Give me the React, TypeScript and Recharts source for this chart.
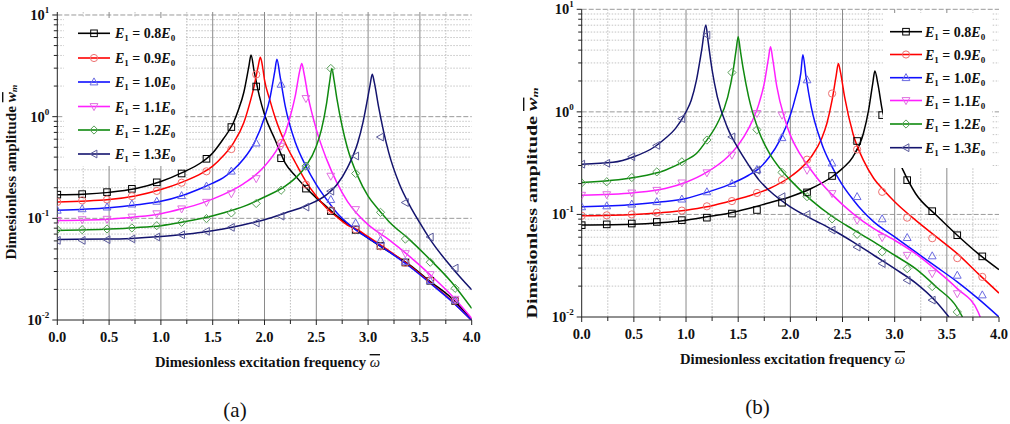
import React from 'react';
import { ComposedChart, Line, Scatter, XAxis, YAxis, CartesianGrid } from 'recharts';

// ---- axis ticks ----
const xTicks = [0, 0.25, 0.5, 0.75, 1, 1.25, 1.5, 1.75, 2, 2.25, 2.5, 2.75, 3, 3.25, 3.5, 3.75, 4];
const xMajor = [0, 0.5, 1, 1.5, 2, 2.5, 3, 3.5, 4];
const xMinor = [0.25, 0.75, 1.25, 1.75, 2.25, 2.75, 3.25, 3.75];
const xGridMajor = [0.5, 1, 1.5, 2, 2.5, 3, 3.5];
const yMajor = [0.01, 0.1, 1, 10];
const yGridMajor = [0.1, 1, 10];
const yMinor = [
  0.02, 0.03, 0.04, 0.05, 0.06, 0.07, 0.08, 0.09,
  0.2, 0.3, 0.4, 0.5, 0.6, 0.7, 0.8, 0.9,
  2, 3, 4, 5, 6, 7, 8, 9,
];
const yTicks = [...yMajor, ...yMinor];

// ---- series ----
const seriesLabels = ['0.8', '0.9', '1.0', '1.1', '1.2', '1.3'];
const lineColors = ['#000000', '#ff0000', '#1010ff', '#ff20ff', '#108a10', '#14146e'];
const markerColors = ['#000000', '#ee7070', '#6a6ae0', '#e070e0', '#5aa05a', '#5a5a9a'];
const markerKinds = ['square', 'circle', 'up', 'down', 'diamond', 'left'];
const markerX = [0, 0.24, 0.48, 0.72, 0.96, 1.2, 1.44, 1.68, 1.92, 2.16, 2.4, 2.64, 2.88, 3.12, 3.36, 3.6, 3.84];

// (a) curves
const lineA08 = [[0, 0.171], [0.25, 0.173], [0.5, 0.18], [0.75, 0.195], [1.0, 0.23], [1.2, 0.28], [1.4, 0.36], [1.5, 0.44], [1.6, 0.6], [1.7, 0.87], [1.75, 1.18], [1.8, 1.73], [1.85, 3.16], [1.87, 4.03], [1.9, 2.8], [1.95, 1.6], [2.0, 1.05], [2.1, 0.6], [2.2, 0.35], [2.3, 0.26], [2.4, 0.2], [2.5, 0.159], [2.6, 0.13], [2.7, 0.105], [2.8, 0.0885], [3.0, 0.064], [3.2, 0.047], [3.4, 0.0349], [3.6, 0.0239], [3.8, 0.0166], [4.0, 0.0101]];
const lineA09 = [[0, 0.145], [0.5, 0.153], [0.75, 0.166], [1.0, 0.192], [1.2, 0.226], [1.4, 0.28], [1.5, 0.326], [1.6, 0.41], [1.7, 0.55], [1.8, 0.87], [1.85, 1.27], [1.9, 2.0], [1.94, 3.16], [1.96, 3.85], [1.98, 3.16], [2.0, 2.3], [2.05, 1.48], [2.1, 1.0], [2.2, 0.55], [2.3, 0.35], [2.4, 0.23], [2.5, 0.165], [2.6, 0.126], [2.7, 0.103], [2.8, 0.086], [2.9, 0.077], [3.0, 0.066], [3.2, 0.048], [3.4, 0.0343], [3.6, 0.0233], [3.8, 0.0157], [4.0, 0.0099]];
const lineA10 = [[0, 0.12], [0.5, 0.127], [0.75, 0.135], [1.0, 0.147], [1.2, 0.167], [1.4, 0.2], [1.5, 0.222], [1.6, 0.25], [1.7, 0.3], [1.8, 0.385], [1.9, 0.55], [2.0, 0.98], [2.05, 1.48], [2.1, 2.82], [2.12, 3.68], [2.15, 2.5], [2.2, 1.27], [2.3, 0.55], [2.4, 0.326], [2.5, 0.215], [2.6, 0.153], [2.7, 0.113], [2.8, 0.09], [2.9, 0.0745], [3.0, 0.064], [3.2, 0.047], [3.4, 0.0336], [3.6, 0.023], [3.8, 0.0155], [4.0, 0.0099]];
const lineA11 = [[0, 0.095], [0.5, 0.098], [0.75, 0.103], [1.0, 0.111], [1.2, 0.124], [1.4, 0.142], [1.6, 0.171], [1.8, 0.22], [1.9, 0.26], [2.0, 0.326], [2.1, 0.44], [2.2, 0.695], [2.25, 1.02], [2.3, 1.66], [2.34, 2.82], [2.36, 3.33], [2.38, 2.72], [2.42, 1.6], [2.5, 0.75], [2.6, 0.38], [2.7, 0.223], [2.8, 0.147], [2.9, 0.109], [3.0, 0.0866], [3.2, 0.0617], [3.4, 0.0422], [3.6, 0.0278], [3.8, 0.0177], [4.0, 0.0104]];
const lineA12 = [[0, 0.076], [0.5, 0.0786], [0.75, 0.081], [1.0, 0.0847], [1.2, 0.0913], [1.4, 0.1], [1.6, 0.113], [1.8, 0.131], [2.0, 0.162], [2.2, 0.207], [2.3, 0.25], [2.4, 0.326], [2.5, 0.513], [2.55, 0.75], [2.6, 1.37], [2.63, 2.25], [2.65, 2.98], [2.67, 2.33], [2.7, 1.48], [2.75, 0.8], [2.8, 0.494], [2.9, 0.26], [3.0, 0.165], [3.1, 0.122], [3.2, 0.0933], [3.4, 0.0617], [3.6, 0.0391], [3.8, 0.0239], [4.0, 0.013]];
const lineA13 = [[0, 0.062], [0.5, 0.0625], [1.0, 0.0664], [1.2, 0.069], [1.4, 0.0728], [1.6, 0.0786], [1.8, 0.0866], [2.0, 0.097], [2.2, 0.113], [2.4, 0.133], [2.6, 0.171], [2.7, 0.215], [2.8, 0.314], [2.9, 0.553], [2.95, 0.873], [3.0, 1.6], [3.02, 2.08], [3.04, 2.62], [3.06, 2.17], [3.1, 1.27], [3.2, 0.44], [3.3, 0.22], [3.4, 0.135], [3.5, 0.09], [3.6, 0.0617], [3.8, 0.0336], [4.0, 0.0198]];

// (a) markers at markerX
const dotsA08 = [0.171, 0.173, 0.181, 0.195, 0.226, 0.276, 0.385, 0.79, 1.98, 0.39, 0.196, 0.118, 0.077, 0.0537, 0.0368, 0.0243, 0.0154];
const dotsA09 = [0.145, 0.15, 0.153, 0.165, 0.186, 0.224, 0.29, 0.48, 2.6, 0.55, 0.215, 0.12, 0.078, 0.053, 0.0365, 0.0245, 0.0155];
const dotsA10 = [0.12, 0.124, 0.129, 0.138, 0.147, 0.167, 0.207, 0.291, 0.55, 2.08, 0.326, 0.153, 0.09, 0.0607, 0.0377, 0.0243, 0.0157];
const dotsA11 = [0.0955, 0.097, 0.098, 0.103, 0.111, 0.124, 0.144, 0.175, 0.246, 0.513, 1.51, 0.26, 0.122, 0.0717, 0.045, 0.028, 0.016];
const dotsA12 = [0.0773, 0.0773, 0.0786, 0.0804, 0.0847, 0.0913, 0.0995, 0.113, 0.14, 0.189, 0.326, 2.98, 0.276, 0.1145, 0.0625, 0.037, 0.0205];
const dotsA13 = [0.0607, 0.0607, 0.0617, 0.0627, 0.0655, 0.069, 0.0745, 0.0815, 0.09, 0.105, 0.129, 0.185, 0.41, 0.63, 0.143, 0.0655, 0.0324];

// (b) curves
const lineB08 = [[0, 0.079], [0.5, 0.0803], [0.75, 0.083], [1.0, 0.0879], [1.2, 0.0947], [1.4, 0.102], [1.6, 0.114], [1.8, 0.13], [2.0, 0.149], [2.2, 0.179], [2.4, 0.233], [2.5, 0.281], [2.6, 0.365], [2.7, 0.616], [2.75, 1.04], [2.79, 1.9], [2.81, 2.5], [2.84, 1.85], [2.88, 1.05], [2.95, 0.6], [3.0, 0.42], [3.08, 0.27], [3.2, 0.16], [3.4, 0.098], [3.6, 0.0627], [3.8, 0.0415], [4.0, 0.029]];
const lineB09 = [[0, 0.097], [0.5, 0.1], [0.75, 0.104], [1.0, 0.11], [1.2, 0.1186], [1.4, 0.133], [1.6, 0.151], [1.8, 0.179], [2.0, 0.233], [2.1, 0.281], [2.2, 0.365], [2.3, 0.55], [2.35, 0.77], [2.4, 1.3], [2.44, 2.28], [2.46, 2.97], [2.48, 2.45], [2.52, 1.4], [2.6, 0.616], [2.7, 0.338], [2.8, 0.224], [2.9, 0.17], [3.0, 0.133], [3.2, 0.0879], [3.4, 0.0604], [3.6, 0.0415], [3.8, 0.0265], [4.0, 0.0171]];
const lineB10 = [[0, 0.119], [0.5, 0.125], [0.75, 0.132], [1.0, 0.143], [1.2, 0.164], [1.4, 0.193], [1.6, 0.241], [1.7, 0.281], [1.8, 0.365], [1.9, 0.531], [2.0, 0.93], [2.05, 1.4], [2.1, 2.37], [2.12, 3.6], [2.15, 2.2], [2.2, 1.12], [2.3, 0.492], [2.4, 0.291], [2.5, 0.193], [2.6, 0.14], [2.7, 0.106], [2.8, 0.0845], [3.0, 0.0604], [3.2, 0.0431], [3.4, 0.0308], [3.6, 0.022], [3.8, 0.0151], [4.0, 0.01]];
const lineB11 = [[0, 0.154], [0.5, 0.163], [0.8, 0.179], [1.0, 0.206], [1.2, 0.258], [1.4, 0.365], [1.5, 0.474], [1.6, 0.69], [1.7, 1.21], [1.75, 1.9], [1.79, 3.33], [1.81, 4.32], [1.83, 3.33], [1.87, 1.77], [1.95, 0.83], [2.0, 0.593], [2.1, 0.378], [2.2, 0.27], [2.3, 0.2], [2.4, 0.156], [2.6, 0.102], [2.8, 0.0728], [3.0, 0.056], [3.2, 0.0415], [3.4, 0.0286], [3.6, 0.0189], [3.8, 0.0112], [3.82, 0.01]];
const lineB12 = [[0, 0.205], [0.5, 0.229], [0.8, 0.27], [1.0, 0.338], [1.1, 0.393], [1.2, 0.531], [1.3, 0.77], [1.4, 1.4], [1.45, 2.47], [1.48, 4.0], [1.5, 5.41], [1.52, 4.0], [1.55, 2.56], [1.6, 1.4], [1.7, 0.64], [1.8, 0.393], [1.9, 0.281], [2.0, 0.216], [2.2, 0.138], [2.4, 0.096], [2.6, 0.0715], [2.8, 0.054], [3.0, 0.04], [3.2, 0.0296], [3.4, 0.0196], [3.6, 0.0123], [3.65, 0.01]];
const lineB13 = [[0, 0.309], [0.3, 0.322], [0.5, 0.365], [0.7, 0.457], [0.8, 0.55], [0.9, 0.69], [1.0, 1.0], [1.05, 1.3], [1.1, 2.04], [1.15, 4.0], [1.19, 7.03], [1.21, 5.0], [1.25, 2.56], [1.3, 1.4], [1.4, 0.69], [1.5, 0.44], [1.6, 0.303], [1.7, 0.216], [1.8, 0.17], [2.0, 0.1186], [2.2, 0.0912], [2.4, 0.0713], [2.6, 0.054], [2.8, 0.04], [3.0, 0.0296], [3.2, 0.0215], [3.4, 0.014], [3.52, 0.01]];

// (b) markers at markerX (null = below axis)
const dotsB08 = [0.0786, 0.08, 0.0815, 0.0845, 0.088, 0.093, 0.102, 0.1105, 0.13, 0.164, 0.237, 0.52, 0.93, 0.216, 0.1076, 0.0627, 0.039];
const dotsB09 = [0.097, 0.098, 0.1, 0.104, 0.109, 0.12, 0.135, 0.162, 0.216, 0.342, 1.51, 0.43, 0.166, 0.093, 0.0586, 0.0375, 0.0246];
const dotsB10 = [0.1186, 0.121, 0.126, 0.133, 0.141, 0.166, 0.2, 0.274, 0.56, 2.05, 0.317, 0.149, 0.0905, 0.0594, 0.0394, 0.0255, 0.0164];
const dotsB11 = [0.154, 0.156, 0.162, 0.172, 0.203, 0.255, 0.379, 0.966, 0.93, 0.27, 0.16, 0.0879, 0.0595, 0.04, 0.0265, 0.0169, null];
const dotsB12 = [0.203, 0.208, 0.229, 0.26, 0.326, 0.531, 2.42, 0.67, 0.257, 0.149, 0.0905, 0.064, 0.0431, 0.0296, 0.0198, 0.0112, null];
const dotsB13 = [0.309, 0.315, 0.365, 0.47, 0.86, 5.6, 0.57, 0.27, 0.149, 0.1, 0.0703, 0.048, 0.0332, 0.0228, 0.0146, null, null];

const linesA = [lineA08, lineA09, lineA10, lineA11, lineA12, lineA13];
const dotsA = [dotsA08, dotsA09, dotsA10, dotsA11, dotsA12, dotsA13];
const linesB = [lineB08, lineB09, lineB10, lineB11, lineB12, lineB13];
const dotsB = [dotsB08, dotsB09, dotsB10, dotsB11, dotsB12, dotsB13];

const FONT = '"Liberation Serif", "Times New Roman", serif';
const AXIS = '#222';

function Marker({ kind, cx, cy, color }: { kind: string; cx: number; cy: number; color: string }) {
  const r = 3.3;
  const common = { fill: 'none', stroke: color, strokeWidth: 1 };
  if (kind === 'square') return <rect x={cx - r} y={cy - r} width={2 * r} height={2 * r} {...common} />;
  if (kind === 'circle') return <circle cx={cx} cy={cy} r={r + 0.3} {...common} />;
  if (kind === 'up') return <polygon points={`${cx},${cy - r - 0.8} ${cx + r + 0.6},${cy + r - 0.4} ${cx - r - 0.6},${cy + r - 0.4}`} {...common} />;
  if (kind === 'down') return <polygon points={`${cx},${cy + r + 0.8} ${cx + r + 0.6},${cy - r + 0.4} ${cx - r - 0.6},${cy - r + 0.4}`} {...common} />;
  if (kind === 'diamond') return <polygon points={`${cx},${cy - r - 0.8} ${cx + r + 0.8},${cy} ${cx},${cy + r + 0.8} ${cx - r - 0.8},${cy}`} {...common} />;
  return <polygon points={`${cx - r - 0.8},${cy} ${cx + r - 0.4},${cy - r - 0.6} ${cx + r - 0.4},${cy + r + 0.6}`} {...common} />;
}

// bottom and left ticks point outwards, top and right ticks point inwards
const BottomTick = ({ x, y, payload }: any) => {
  const v = payload.value;
  const major = xMajor.includes(v);
  return (
    <g>
      <line x1={x} x2={x} y1={y} y2={y + (major ? 5 : 4)} stroke={AXIS} />
      {major && (
        <text x={x} y={y + 22} textAnchor="middle" fontFamily={FONT} fontWeight="bold" fontSize={14.5} fill="#111">
          {v.toFixed(1)}
        </text>
      )}
    </g>
  );
};

const TopTick = ({ x, y, payload }: any) => {
  const major = xMajor.includes(payload.value);
  return <line x1={x} x2={x} y1={y} y2={y + (major ? 4 : 3.5)} stroke={AXIS} />;
};

const LeftTick = ({ x, y, payload }: any) => {
  const v = payload.value;
  const major = yMajor.includes(v);
  const exp = Math.round(Math.log10(v));
  return (
    <g>
      <line x1={x} x2={x - (major ? 5 : 3.5)} y1={y} y2={y} stroke={AXIS} />
      {major && (
        <text x={x - 8} y={y + 5} textAnchor="end" fontFamily={FONT} fontWeight="bold" fontSize={14.5} fill="#111">
          10<tspan dy={-7} fontSize={9}>{exp}</tspan>
        </text>
      )}
    </g>
  );
};

const RightTick = ({ x, y, payload }: any) => {
  const major = yMajor.includes(payload.value);
  return <line x1={x} x2={x - (major ? 4 : 3.5)} y1={y} y2={y} stroke={AXIS} />;
};

// the axis scale may be a plain d3 function or a wrapper with .map
const scaleOf = (s: any, v: number): number => {
  if (!s) return NaN;
  if (typeof s === 'function') return s(v);
  if (typeof s.map === 'function') return s.map(v);
  if (typeof s.scale === 'function') return s.scale(v);
  return NaN;
};
const mapY = (vals: number[]) => ({ yAxis }: any) =>
  vals.map((v) => scaleOf(yAxis?.scale, v)).filter((p) => Number.isFinite(p));
const mapX = (vals: number[]) => ({ xAxis }: any) =>
  vals.map((v) => scaleOf(xAxis?.scale, v)).filter((p) => Number.isFinite(p));

function Panel({ lines, dots, width, height, margin, yTop }: any) {
  const yDomain = [0.01, yTop];
  return (
    <ComposedChart width={width} height={height} margin={margin}>
      <CartesianGrid vertical={false} horizontalCoordinatesGenerator={mapY(yMinor)} stroke="#c4c4c4" strokeDasharray="1.5 1.5" />
      <CartesianGrid vertical={false} horizontalCoordinatesGenerator={mapY(yGridMajor)} stroke="#9a9a9a" strokeDasharray="5 2" />
      <CartesianGrid horizontal={false} verticalCoordinatesGenerator={mapX(xMinor)} stroke="#bdbdbd" strokeDasharray="1.5 1.5" />
      <CartesianGrid horizontal={false} verticalCoordinatesGenerator={mapX(xGridMajor)} stroke="#8a8a8a" />
      <XAxis
        dataKey="x"
        type="number"
        domain={[0, 4]}
        allowDataOverflow
        ticks={xTicks}
        interval={0}
        height={25}
        tickSize={0}
        tickMargin={0}
        tick={<BottomTick />}
        axisLine={{ stroke: AXIS }}
      />
      <XAxis
        xAxisId="top"
        orientation="top"
        type="number"
        domain={[0, 4]}
        allowDataOverflow
        ticks={xTicks}
        interval={0}
        height={0}
        tickSize={0}
        tickMargin={0}
        tick={<TopTick />}
        axisLine={{ stroke: AXIS }}
      />
      <YAxis
        dataKey="y"
        type="number"
        scale="log"
        domain={yDomain}
        allowDataOverflow
        ticks={yTicks}
        interval={0}
        width={50}
        tickSize={0}
        tickMargin={0}
        tick={<LeftTick />}
        axisLine={{ stroke: AXIS }}
      />
      <YAxis
        yAxisId="right"
        orientation="right"
        type="number"
        scale="log"
        domain={yDomain}
        allowDataOverflow
        ticks={yTicks}
        interval={0}
        width={0}
        tickSize={0}
        tickMargin={0}
        tick={<RightTick />}
        axisLine={{ stroke: AXIS }}
      />
      {lines.map((pts: number[][], i: number) => (
        <Line
          key={`l${i}`}
          data={pts.map(([x, y]) => ({ x, y }))}
          dataKey="y"
          type="monotone"
          stroke={lineColors[i]}
          strokeWidth={1.5}
          dot={false}
          activeDot={false}
          isAnimationActive={false}
        />
      ))}
      {dots.map((ys: (number | null)[], i: number) => (
        <Scatter
          key={`s${i}`}
          data={markerX.map((x, j) => ({ x, y: ys[j] })).filter((d) => d.y != null)}
          isAnimationActive={false}
          shape={(p: any) => <Marker kind={markerKinds[i]} cx={p.cx} cy={p.cy} color={markerColors[i]} />}
        />
      ))}
    </ComposedChart>
  );
}

function Legend({ box, lineX0, lineX1, textX, rowY }: any) {
  return (
    <g>
      <rect x={box[0]} y={box[1]} width={box[2]} height={box[3]} fill="#fff" />
      {seriesLabels.map((lab, i) => {
        const y = rowY[i];
        return (
          <g key={lab}>
            <line x1={lineX0} x2={lineX1} y1={y} y2={y} stroke={lineColors[i]} strokeWidth={1.6} />
            <Marker kind={markerKinds[i]} cx={(lineX0 + lineX1) / 2} cy={y} color={markerColors[i]} />
            <text x={textX} y={y + 5} fontFamily={FONT} fontWeight="bold" fontSize={14} fill="#111">
              <tspan fontStyle="italic">E</tspan>
              <tspan fontSize={9} dy={3}>1</tspan>
              <tspan dy={-3}>{` = ${lab}`}</tspan>
              <tspan fontStyle="italic">E</tspan>
              <tspan fontSize={9} dy={3}>0</tspan>
            </text>
          </g>
        );
      })}
    </g>
  );
}

function YTitle({ x, y, len }: any) {
  return (
    <text
      x={x}
      y={y}
      transform={`rotate(-90 ${x} ${y})`}
      textAnchor="middle"
      dominantBaseline="central"
      fontFamily={FONT}
      fontWeight="bold"
      fontSize={14}
      fill="#111"
      textLength={len}
      lengthAdjust="spacingAndGlyphs"
    >
      Dimesionless amplitude{' '}
      <tspan fontStyle="italic" style={{ textDecoration: 'overline' }}>w</tspan>
      <tspan fontStyle="italic" fontSize={9} dy={3}>m</tspan>
    </text>
  );
}

function XTitle({ x, y, len }: any) {
  return (
    <text x={x} y={y} textAnchor="middle" fontFamily={FONT} fontWeight="bold" fontSize={14} fill="#111" textLength={len} lengthAdjust="spacingAndGlyphs">
      Dimesionless excitation frequency{' '}
      <tspan fontStyle="italic" fontWeight="normal" style={{ textDecoration: 'overline' }}>ω</tspan>
    </text>
  );
}

export default function App() {
  return (
    <div style={{ position: 'absolute', left: 0, top: 0, width: 1010, height: 424, background: '#fff' }}>
      <div style={{ position: 'absolute', left: 0, top: 0 }}>
        <Panel lines={linesA} dots={dotsA} yTop={10.7} width={500} height={345} margin={{ top: 12, right: 28.3, bottom: 0, left: 7.3 }} />
      </div>
      <div style={{ position: 'absolute', left: 505, top: 0 }}>
        <Panel lines={linesB} dots={dotsB} yTop={10} width={505} height={342} margin={{ top: 9.3, right: 11, bottom: 0, left: 26.7 }} />
      </div>
      <svg width={1010} height={424} style={{ position: 'absolute', left: 0, top: 0, pointerEvents: 'none' }}>
        <Legend box={[64, 18, 121, 148]} lineX0={78} lineX1={110} textX={115} rowY={[33.3, 58, 82, 106.5, 130, 154]} />
        <Legend box={[883, 13, 109, 155]} lineX0={890} lineX1={922} textX={925} rowY={[31.7, 54.5, 77.7, 100.5, 124, 147.7]} />
        <YTitle x={11} y={172} len={175} />
        <YTitle x={532} y={203} len={231} />
        <XTitle x={267.5} y={367} len={225} />
        <XTitle x={792.5} y={364} len={225} />
        <text x={235} y={417} textAnchor="middle" fontFamily={FONT} fontSize={21} fill="#111">(a)</text>
        <text x={757.5} y={414} textAnchor="middle" fontFamily={FONT} fontSize={21} fill="#111">(b)</text>
      </svg>
    </div>
  );
}
